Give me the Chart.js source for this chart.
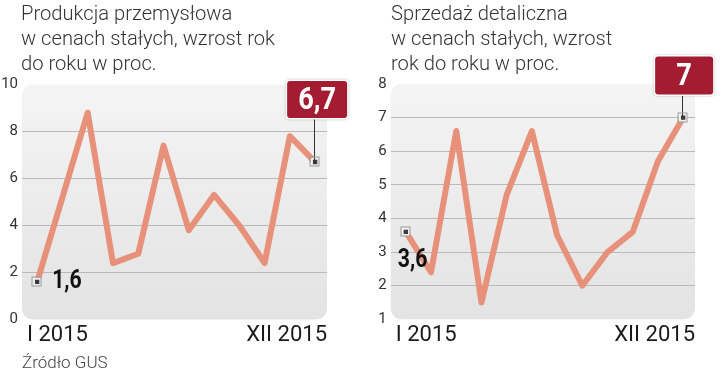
<!DOCTYPE html>
<html lang="pl">
<head>
<meta charset="utf-8">
<script src="https://cdn.jsdelivr.net/npm/chart.js@4.4.1/dist/chart.umd.min.js"></script>
<style>
  html, body { margin: 0; padding: 0; background: #fff; }
  #wrap { position: relative; width: 720px; height: 372px; overflow: hidden; font-family: Roboto, sans-serif; }
  .box { position: absolute; top: 0; width: 360px; height: 372px; }
  .box canvas { position: absolute; left: 0; top: 0; }
  .tytul { position: absolute; top: 1px; font-weight: 300; font-size: 21px; line-height: 25px; color: #333;
           white-space: nowrap; transform: scaleX(0.96); transform-origin: left top; }
  #zrodlo { position: absolute; left: 22px; top: 352px; font-weight: 300; font-size: 17px; color: #444; }
</style>
</head>
<body>
<div id="wrap">
  <div class="box" style="left:0">
    <canvas id="chartProd" width="360" height="372"></canvas>
    <div class="tytul" style="left:21px">Produkcja przemysłowa<br>w cenach stałych, wzrost rok<br>do roku w proc.</div>
  </div>
  <div class="box" style="left:360px">
    <canvas id="chartSprz" width="360" height="372"></canvas>
    <div class="tytul" style="left:31px">Sprzedaż detaliczna<br>w cenach stałych, wzrost<br>rok do roku w proc.</div>
  </div>
  <div id="zrodlo">Źródło GUS</div>
</div>
<script>
// ======================================================
// DATA
// ======================================================
const miesiace = ['I 2015', 'II', 'III', 'IV', 'V', 'VI', 'VII', 'VIII', 'IX', 'X', 'XI', 'XII 2015'];
const produkcja = [1.6, 5.2, 8.8, 2.4, 2.8, 7.4, 3.8, 5.3, 4.0, 2.4, 7.8, 6.7];
const sprzedaz = [3.6, 2.4, 6.6, 1.5, 4.7, 6.6, 3.5, 2.0, 3.0, 3.6, 5.7, 7.0];
const ticksProd = [0, 2, 4, 6, 8, 10];
const ticksSprz = [1, 2, 3, 4, 5, 6, 7, 8];

const LINE_COLOR = '#e8917a';
const BOX_COLOR = '#a31c31';
const fmt = (v) => v.toLocaleString('pl-PL');

// grey rounded panel behind the plot
const panelPlugin = {
  id: 'panel',
  beforeDraw(chart) {
    const { ctx, chartArea: a } = chart;
    const g = ctx.createLinearGradient(0, a.top, 0, a.bottom);
    g.addColorStop(0, '#f4f4f4');
    g.addColorStop(1, '#e3e3e3');
    ctx.save();
    ctx.fillStyle = g;
    ctx.beginPath();
    ctx.roundRect(a.left, a.top, a.width, a.height, 11);
    ctx.fill();
    ctx.restore();
  }
};

// value labels for first and last point
const labelPlugin = {
  id: 'etykiety',
  afterDatasetsDraw(chart, args, opt) {
    const { ctx } = chart;
    const meta = chart.getDatasetMeta(0);
    const vals = chart.data.datasets[0].data;
    const first = meta.data[0];
    const last = meta.data[meta.data.length - 1];

    ctx.save();
    // last point: red box + connector
    const bx = last.x + opt.boxDx - opt.boxW / 2;
    const by = last.y - opt.boxGap - opt.boxH;
    ctx.strokeStyle = '#333';
    ctx.lineWidth = 1;
    ctx.beginPath();
    ctx.moveTo(Math.round(last.x) - 0.5, by + opt.boxH);
    ctx.lineTo(Math.round(last.x) - 0.5, last.y);
    ctx.stroke();

    ctx.shadowColor = 'rgba(0,0,0,0.3)';
    ctx.shadowBlur = 2;
    ctx.fillStyle = '#fff';
    ctx.beginPath();
    ctx.roundRect(bx - 1.5, by - 1.5, opt.boxW + 3, opt.boxH + 3, 4);
    ctx.fill();
    ctx.shadowColor = 'transparent';
    ctx.fillStyle = BOX_COLOR;
    ctx.beginPath();
    ctx.roundRect(bx, by, opt.boxW, opt.boxH, 3);
    ctx.fill();

    ctx.fillStyle = '#fff';
    ctx.font = 'bold 32px Roboto';
    ctx.textAlign = 'center';
    ctx.textBaseline = 'middle';
    ctx.translate(bx + opt.boxW / 2, by + opt.boxH / 2 + 1);
    ctx.scale(0.85, 1);
    ctx.fillText(fmt(vals[vals.length - 1].y), 0, 0);
    ctx.setTransform(1, 0, 0, 1, 0, 0);

    // first point: black bold text
    ctx.fillStyle = '#111';
    ctx.font = 'bold 25px Roboto';
    ctx.textAlign = 'left';
    ctx.textBaseline = 'middle';
    ctx.translate(first.x + opt.firstDx, first.y + opt.firstDy);
    ctx.scale(0.85, 1);
    ctx.fillText(fmt(vals[0].y), 0, 0);
    ctx.setTransform(1, 0, 0, 1, 0, 0);

    // outline of the end markers
    ctx.strokeStyle = '#9a9a9a';
    ctx.lineWidth = 1;
    [first, last].forEach((p) => {
      ctx.strokeRect(Math.round(p.x) - 5, Math.round(p.y) - 5, 9, 9);
    });
    ctx.restore();
  }
};

const makeChart = (id, values, ticks, pad, yWidth, lbl) => {
  return new Chart(document.getElementById(id), {
    type: 'line',
    data: {
      datasets: [{
        data: values.map((v, i) => ({ x: i, y: v })),
        borderColor: LINE_COLOR,
        borderWidth: 6,
        borderJoinStyle: 'round',
        borderCapStyle: 'round',
        tension: 0,
        pointStyle: 'rect',
        pointRadius: (c) => (c.dataIndex === 0 || c.dataIndex === values.length - 1) ? 4.5 : 0,
        pointBackgroundColor: '#3a3a3a',
        pointBorderColor: '#f0f0f0',
        pointBorderWidth: 2,
        clip: false
      }]
    },
    options: {
      responsive: false,
      animation: false,
      layout: { padding: pad },
      plugins: {
        legend: { display: false },
        tooltip: { enabled: false },
        etykiety: lbl
      },
      scales: {
        x: {
          type: 'linear',
          min: -0.6,
          max: 11.47,
          afterBuildTicks: (s) => { s.ticks = [{ value: -0.4 }, { value: s.max }]; },
          afterFit: (s) => { s.height = 26; },
          grid: { display: false },
          border: { display: false },
          ticks: {
            align: 'inner',
            maxRotation: 0,
            padding: -5,
            color: '#1a1a1a',
            font: { family: 'Roboto', size: 22 },
            callback: (v, i) => i === 0 ? miesiace[0] : miesiace[miesiace.length - 1]
          }
        },
        y: {
          min: ticks[0],
          max: ticks[ticks.length - 1],
          afterBuildTicks: (s) => { s.ticks = ticks.map(v => ({ value: v })); },
          afterFit: (s) => { s.width = yWidth; },
          border: { display: false },
          grid: {
            drawTicks: false,
            color: (c) => (c.tick.value === ticks[0] || c.tick.value === ticks[ticks.length - 1]) ? 'rgba(0,0,0,0)' : '#b9b9b9',
            lineWidth: 1
          },
          ticks: {
            padding: 4,
            color: '#333',
            font: { family: 'Roboto', size: 15 },
            callback: (v) => fmt(v)
          }
        }
      }
    },
    plugins: [panelPlugin, labelPlugin]
  });
};

window.onload = () => {
  makeChart('chartProd', produkcja, ticksProd,
    { top: 84.5, right: 33, bottom: 26.5, left: 0 }, 22,
    { boxW: 60, boxH: 37, boxDx: 2, boxGap: 44, firstDx: 15, firstDy: 0 });
  makeChart('chartSprz', sprzedaz, ticksSprz,
    { top: 84, right: 25, bottom: 26.7, left: 0 }, 30.7,
    { boxW: 58, boxH: 38, boxDx: 1, boxGap: 23, firstDx: -8, firstDy: 29 });
};
</script>
</body>
</html>
